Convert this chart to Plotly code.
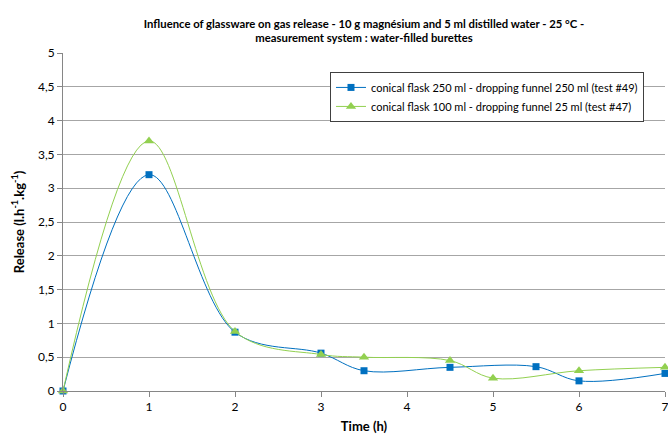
import plotly.graph_objects as go

x_blue = [0, 1, 2, 3, 3.5, 4.5, 5.5, 6, 7]
y_blue = [0, 3.2, 0.87, 0.56, 0.30, 0.35, 0.36, 0.15, 0.26]
x_green = [0, 1, 2, 3, 3.5, 4.5, 5, 6, 7]
y_green = [0, 3.7, 0.88, 0.54, 0.50, 0.45, 0.19, 0.30, 0.35]

name_blue = "conical flask 250 ml - dropping funnel 250 ml (test #49)"
name_green = "conical flask 100 ml - dropping funnel 25 ml (test #47)"

y_tickvals = [0, 0.5, 1, 1.5, 2, 2.5, 3, 3.5, 4, 4.5, 5]
y_ticktext = ["0", "0,5", "1", "1,5", "2", "2,5", "3", "3,5", "4", "4,5", "5"]
x_tickvals = [0, 1, 2, 3, 4, 5, 6, 7]
x_ticktext = ["0", "1", "2", "3", "4", "5", "6", "7"]

title = ("Influence of glassware on gas release - 10 g magnésium and 5 ml distilled water - 25 °C -"
         "<br>measurement system : water-filled burettes")

FONT = "Lato"

fig = go.Figure()
fig.add_trace(go.Scatter(
    x=x_blue, y=y_blue, name=name_blue, mode="lines+markers",
    line=dict(color="#0070C0", width=1, shape="spline", smoothing=1),
    marker=dict(symbol="square", size=7, color="#0070C0"),
    cliponaxis=False,
))
fig.add_trace(go.Scatter(
    x=x_green, y=y_green, name=name_green, mode="lines+markers",
    line=dict(color="#92D050", width=1, shape="spline", smoothing=1),
    marker=dict(symbol="triangle-up", size=9, color="#92D050"),
    cliponaxis=False,
))

fig.update_layout(
    width=668, height=443,
    paper_bgcolor="white", plot_bgcolor="white",
    margin=dict(l=63, r=3, t=53, b=52, autoexpand=False),
    font=dict(family=FONT, size=12, color="#000000"),
    title=dict(text=title, x=0.5, xanchor="center", xref="paper",
               yref="container", y=1 - 27.5 / 443, yanchor="middle",
               font=dict(family=FONT, size=11.3, color="#000000", weight="bold")),
    showlegend=True,
    legend=dict(x=0.4435, y=0.944, xanchor="left", yanchor="top",
                bgcolor="white", bordercolor="#404040", borderwidth=1,
                font=dict(family=FONT, size=11, color="#000000"),
                tracegroupgap=4, itemwidth=30),
    xaxis=dict(range=[0, 7], tickvals=x_tickvals, ticktext=x_ticktext,
               showgrid=False, zeroline=False, showline=True, linecolor="#868686",
               linewidth=1, ticks="outside", ticklen=5, tickcolor="#868686",
               ticklabeloverflow="allow",
               title=dict(text="<b>Time (h)</b>", font=dict(size=13), standoff=8),
               tickfont=dict(size=12)),
    yaxis=dict(range=[0, 5], tickvals=y_tickvals, ticktext=y_ticktext,
               showgrid=True, gridcolor="#A6A6A6", gridwidth=1, zeroline=False,
               showline=True, linecolor="#868686", linewidth=1,
               ticks="outside", ticklen=5, tickcolor="#868686",
               title=dict(text="<b>Release (l.h<sup>-1</sup>.kg<sup>-1</sup>)</b>",
                          font=dict(size=13), standoff=10),
               tickfont=dict(size=12)),
)

fig.write_html("out.html", config={"displayModeBar": False},
               post_script="document.body.style.margin='0';document.body.style.overflow='hidden';")
